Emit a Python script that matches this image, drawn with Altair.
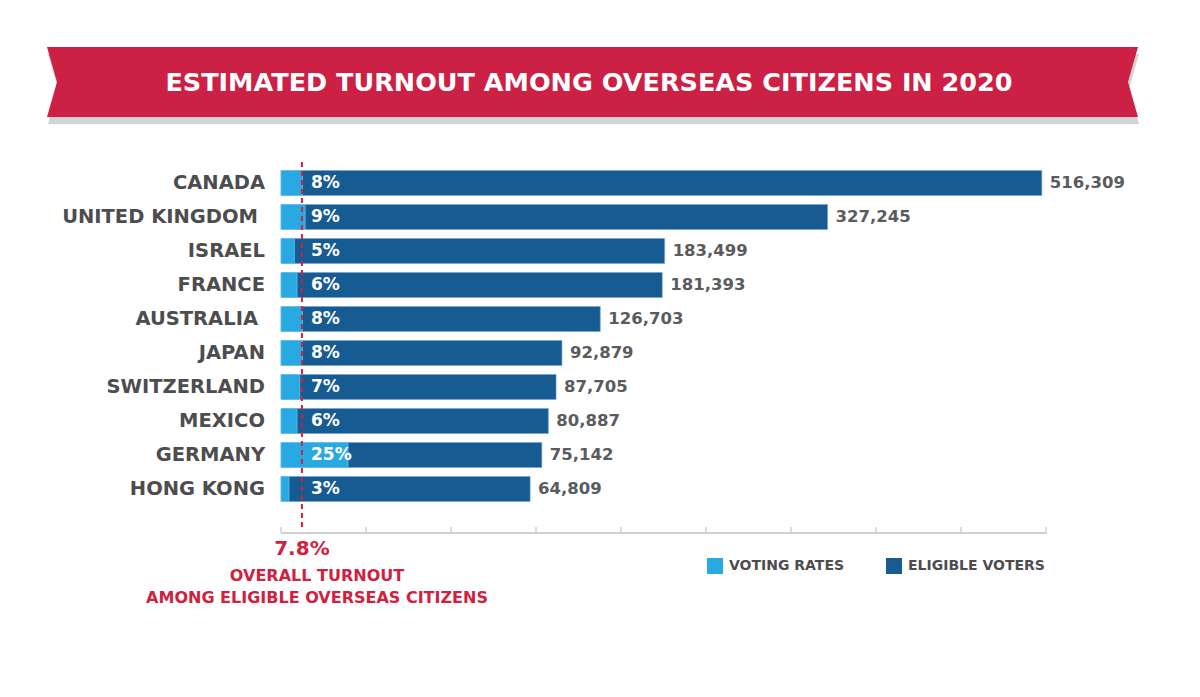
import altair as alt
import pandas as pd

# ---- data ----
COUNTRIES = ["CANADA", "UNITED KINGDOM ", "ISRAEL", "FRANCE", "AUSTRALIA ",
             "JAPAN", "SWITZERLAND", "MEXICO", "GERMANY", "HONG KONG"]
ELIGIBLE = [516309, 327245, 183499, 181393, 126703, 92879, 87705, 80887, 75142, 64809]
RATES = [8, 9, 5, 6, 8, 8, 7, 6, 25, 3]
OVERALL = [7.8]
AXIS_TICKS = [-155000, -80000, -5000, 70000, 145000, 220000, 295000, 370000, 445000, 520000]
SERIES = ["VOTING RATES", "ELIGIBLE VOTERS"]
TITLE = "ESTIMATED TURNOUT AMONG OVERSEAS CITIZENS IN 2020"
NOTE = "OVERALL TURNOUT\nAMONG ELIGIBLE OVERSEAS CITIZENS"

# ---- styling ----
FONT = "DejaVu Sans"
RED = "#cc2045"
RED_TXT = "#d0223f"
DARK = "#175b93"
LIGHT = "#29a9e1"
GRAY_TXT = "#4d4d4f"
VAL_TXT = "#5a5b5d"
SHADOW = "#d1d3d4"
W, H = 765, 340

df = pd.DataFrame({
    "country": COUNTRIES,
    "eligible": ELIGIBLE,
    "rate": RATES,
})
df["rate_label"] = df["rate"].astype(str) + "%"
df["vbase"] = AXIS_TICKS[0]
df["pbase"] = 0

vscale = alt.Scale(domain=[AXIS_TICKS[0], AXIS_TICKS[-1]], nice=False, zero=False)
pscale = alt.Scale(domain=[0, 285], nice=False, zero=False)
yenc = alt.Y("country:N", sort=COUNTRIES, axis=None,
             scale=alt.Scale(paddingInner=0.265, paddingOuter=0.1325))
color = alt.Color("series:N", scale=alt.Scale(domain=SERIES, range=[LIGHT, DARK]),
                  legend=alt.Legend(title=None, orient="none", legendX=426, legendY=392,
                                    direction="horizontal", symbolType="square",
                                    symbolSize=256, symbolStrokeWidth=0, padding=0,
                                    labelFont=FONT, labelFontSize=14, labelFontWeight="bold",
                                    labelColor=GRAY_TXT, labelOffset=6, columnPadding=41))

base = alt.Chart(df)

# country names, right-aligned left of the bars (a trailing space in the name
# shifts it left, as in the source graphic)
names = base.transform_calculate(
    lx="test(/ $/, datum.country) ? -23 : -16"
).mark_text(align="right", baseline="middle", font=FONT, fontSize=19.5,
            fontWeight="bold", color=GRAY_TXT).encode(
    x=alt.X("lx:Q", scale=None), y=yenc, text="country:N")

dark = base.mark_bar(stroke="#6fa3cf", strokeWidth=0.6).transform_calculate(
    series="'ELIGIBLE VOTERS'").encode(
    x=alt.X("eligible:Q", scale=vscale, axis=None), x2="vbase:Q",
    y=yenc, color=color)

light = base.mark_bar(stroke="#7cc8ee", strokeWidth=0.6).transform_calculate(
    series="'VOTING RATES'").encode(
    x=alt.X("rate:Q", scale=pscale, axis=None), x2="pbase:Q",
    y=yenc, color=color)

pct = base.mark_text(align="left", baseline="middle", font=FONT, fontSize=17,
                     fontWeight="bold", color="white").encode(
    x=alt.value(30), y=yenc, text="rate_label:N")

vals = base.mark_text(align="left", baseline="middle", dx=8, font=FONT, fontSize=16.5,
                      fontWeight="bold", color=VAL_TXT).encode(
    x=alt.X("eligible:Q", scale=vscale, axis=None), y=yenc,
    text=alt.Text("eligible:Q", format=","))

ticks_df = pd.DataFrame({"t": AXIS_TICKS})
ticks = alt.Chart(ticks_df).mark_rule(color="#cfd0d2", strokeWidth=1.5).encode(
    x=alt.X("t:Q", scale=vscale, axis=None), y=alt.value(361), y2=alt.value(367))
axis_line = alt.Chart(ticks_df).mark_rule(color="#cfd0d2", strokeWidth=2).encode(
    x=alt.value(0), x2=alt.value(W + 1), y=alt.value(367))

ov = pd.DataFrame({"v": OVERALL, "lab": ["7.8%"], "note": [NOTE]})
dash = alt.Chart(ov).mark_rule(color=RED_TXT, strokeWidth=2, strokeDash=[5, 4]).encode(
    x=alt.X("v:Q", scale=pscale, axis=None), y=alt.value(-4), y2=alt.value(362))
ov_lab = alt.Chart(ov).mark_text(align="center", baseline="middle", font=FONT,
                                 fontSize=20, fontWeight="bold", color=RED_TXT).encode(
    x=alt.X("v:Q", scale=pscale, axis=None), y=alt.value(383), text="lab:N")
note = alt.Chart(ov).mark_text(align="center", baseline="middle", font=FONT, fontSize=16,
                               fontWeight="bold", color=RED_TXT, lineBreak="\n",
                               lineHeight=22).encode(
    x=alt.value(36), y=alt.value(410), text="note:N")

# ---- banner ----
BANNER = "M-15.586,-1L15.586,-1L15.3,0L15.586,1L-15.586,1L-15.3,0Z"
tdf = pd.DataFrame({"title": [TITLE]})
shadow = alt.Chart(tdf).mark_point(shape=BANNER, size=4900, filled=True, opacity=1,
                                   color=SHADOW, strokeWidth=0).encode(
    x=alt.value(312.5), y=alt.value(-77))
banner = alt.Chart(tdf).mark_point(shape=BANNER, size=4900, filled=True, opacity=1,
                                   color=RED, strokeWidth=0).encode(
    x=alt.value(311.5), y=alt.value(-84))
title = alt.Chart(tdf).mark_text(align="center", baseline="middle", font=FONT,
                                 fontSize=25.5, fontWeight="bold", color="white").encode(
    x=alt.value(308), y=alt.value(-83), text="title:N")

chart = alt.layer(
    shadow, banner, title, names,
    dark, light, pct, vals, ticks, axis_line, dash, ov_lab, note
).resolve_scale(x="independent").properties(
    width=W, height=H,
    autosize=alt.AutoSizeParams(type="none"),
    padding={"left": 273, "top": 158, "right": 146, "bottom": 170},
).configure_view(stroke=None)

chart.save("out.html", embed_options={"renderer": "svg", "actions": False})
